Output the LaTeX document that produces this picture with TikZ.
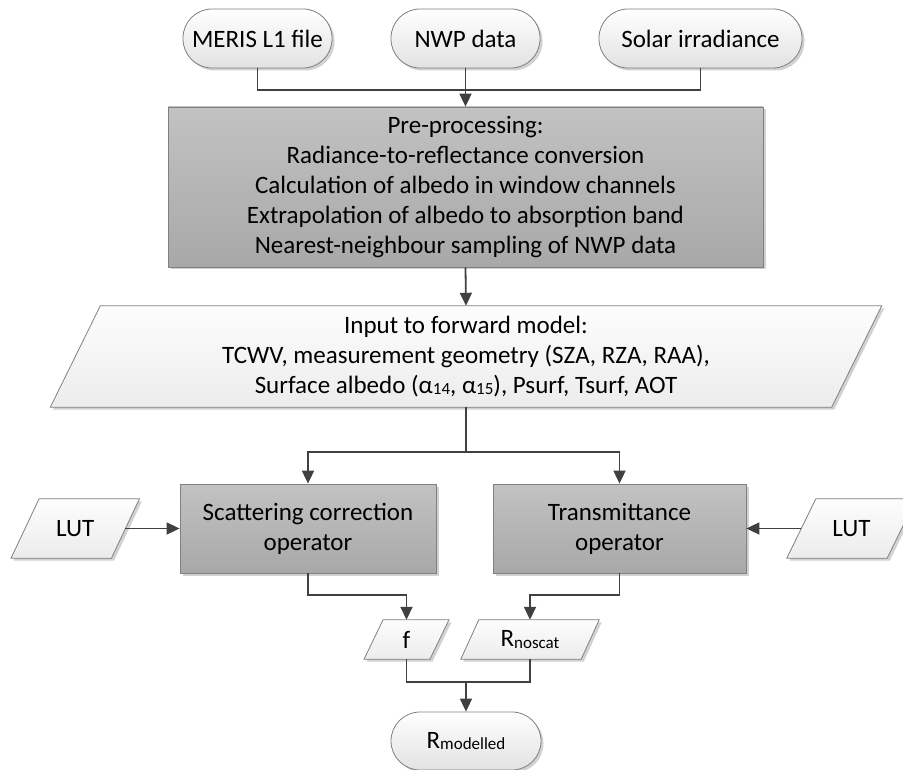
\documentclass[tikz,border=0pt]{standalone}
\usepackage{fontspec}
\setmainfont{Carlito}
\usetikzlibrary{arrows.meta,shadows,backgrounds,calc}
\definecolor{linec}{RGB}{64,64,64}
\definecolor{borderc}{RGB}{128,128,128}
\definecolor{procTop}{RGB}{194,194,194}
\definecolor{procBot}{RGB}{168,168,168}
\definecolor{termTop}{RGB}{255,255,255}
\definecolor{termBot}{RGB}{226,226,226}
\definecolor{paraTop}{RGB}{253,253,253}
\definecolor{paraBot}{RGB}{236,236,236}
\newcommand{\lowsub}[1]{\raisebox{-1.5pt}{\fontsize{17}{17}\selectfont #1}}
\begin{document}
\begin{tikzpicture}[x=1pt,y=1pt,
  every node/.style={font=\fontsize{25}{30}\selectfont, inner sep=0pt, align=center},
  shad/.style={drop shadow={shadow xshift=2.5pt,shadow yshift=-2.5pt,fill=black,opacity=0.18}},
  pill/.style={rectangle, rounded corners=29pt, draw=borderc, line width=0.8pt, top color=termTop, bottom color=termBot, shad, minimum height=59pt},
  proc/.style={rectangle, draw=borderc, line width=0.8pt, top color=procTop, bottom color=procBot, shad},
  parabox/.style={rectangle},
  parafill/.style={draw=borderc, line width=0.8pt, top color=paraTop, bottom color=paraBot, shad},
  conn/.style={draw=linec, line width=1.8pt},
  arr/.style={conn, -{Triangle[length=13pt,width=12pt]}}
]
\useasboundingbox (0,0) rectangle (903,-770);

\node[pill, minimum width=149pt] (meris) at (257.5,-38.5) {MERIS L1 file};
\node[pill, minimum width=149pt] (nwp) at (465.5,-38.5) {NWP data};
\node[pill, minimum width=203pt] (solar) at (700.5,-38.5) {Solar irradiance};
\node[proc, minimum width=595pt, minimum height=160pt] (pre) at (465.5,-187) {Pre-processing:\\Radiance-to-reflectance conversion\\Calculation of albedo in window channels\\Extrapolation of albedo to absorption band\\Nearest-neighbour sampling of NWP data};
\node[parabox, minimum width=781pt, minimum height=101pt] (inp) at (466,-356.5) {Input to forward model:\\TCWV, measurement geometry (SZA, RZA, RAA),\\Surface albedo (α\lowsub{14}, α\lowsub{15}), Psurf, Tsurf, AOT};
\node[proc, minimum width=256pt, minimum height=89pt] (scat) at (308,-528.5) {Scattering correction\\operator};
\node[proc, minimum width=253pt, minimum height=89pt] (trans) at (619.5,-528.5) {Transmittance\\operator};
\node[parabox, minimum width=100pt, minimum height=59pt] (lutl) at (75.25,-528.5) {LUT};
\node[parabox, minimum width=100pt, minimum height=59pt] (lutr) at (851.5,-528.5) {LUT};
\node[parabox, minimum width=65.5pt, minimum height=39pt] (f) at (406.5,-639.5) {f};
\node[parabox, minimum width=120pt, minimum height=39pt] (rn) at (530,-639.5) {R\lowsub{noscat}};
\node[pill, minimum width=150pt, minimum height=58pt] (rmod) at (466,-741) {R\lowsub{modelled}};

\begin{scope}[on background layer]
\foreach \n/\s in {inp/25pt, lutl/14pt, lutr/14.5pt, f/9.5pt, rn/9pt}{
  \path[parafill] ([xshift=\s]\n.north west) -- ([xshift=\s]\n.north east)
    -- ([xshift=-\s]\n.south east) -- ([xshift=-\s]\n.south west) -- cycle;
}
\end{scope}

\coordinate (j1) at ($(nwp.south)+(0,-22)$);
\draw[conn] (meris.south) |- (j1) -| (solar.south);
\draw[arr] (nwp.south) -- (pre.north);
\draw[arr] (pre.south) -- (inp.north);
\coordinate (j2) at ($(inp.south)+(0,-45)$);
\draw[arr] (inp.south) -- (j2) -| (scat.north);
\draw[arr] (j2) -| (trans.north);
\draw[arr] (lutl.east) -- (scat.west);
\draw[arr] (lutr.west) -- (trans.east);
\draw[arr] (scat.south) |- ($(f.north)+(0,25)$) -- (f.north);
\draw[arr] (trans.south) |- ($(rn.north)+(0,25)$) -- (rn.north);
\coordinate (j3) at ($(rmod.north)+(0,30)$);
\draw[conn] (f.south) |- (j3) -| (rn.south);
\draw[arr] (j3) -- (rmod.north);
\end{tikzpicture}
\end{document}
